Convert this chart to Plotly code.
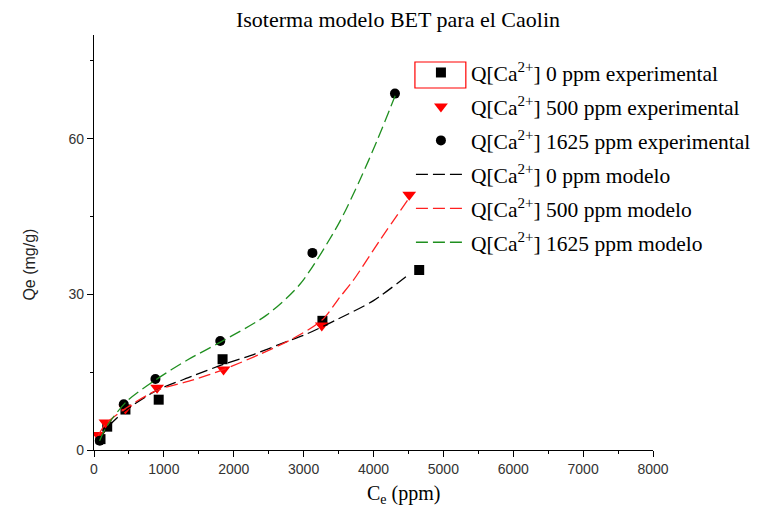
import plotly.graph_objects as go

# Experimental isotherm points (Ce in ppm, Qe in mg/g)
ce_0 = [93, 189, 450, 926, 1840, 3269, 4654]
qe_0 = [2.1, 4.5, 7.8, 9.7, 17.5, 24.9, 34.7]

ce_500 = [60, 164, 450, 903, 1854, 3260, 4511]
qe_500 = [2.9, 5.3, 8.0, 12.0, 15.5, 24.0, 49.2]

ce_1625 = [83, 426, 879, 1807, 3126, 4307]
qe_1625 = [1.8, 8.8, 13.7, 21.0, 38.0, 68.7]

# BET model curves
mx_0 = [80, 190, 450, 900, 1400, 1850, 2300, 2700, 3050, 3500, 4000, 4520]
my_0 = [2.0, 4.3, 7.6, 11.5, 14.2, 16.5, 18.5, 20.6, 22.4, 25.3, 28.8, 34.0]

mx_500 = [60, 165, 450, 900, 1420, 1850, 2380, 2850, 3260, 3520, 3710, 4090, 4500]
my_500 = [2.8, 5.0, 8.0, 11.5, 13.5, 15.5, 18.5, 21.5, 25.0, 29.5, 32.7, 40.4, 48.4]

mx_1625 = [80, 180, 470, 880, 1330, 1810, 2470, 2950, 3500, 3810, 4050, 4310]
my_1625 = [1.8, 4.5, 9.4, 13.5, 17.3, 20.8, 26.0, 32.0, 43.6, 52.2, 59.6, 68.3]

names_exp = ["Q[Ca<sup>2+</sup>] 0 ppm experimental",
             "Q[Ca<sup>2+</sup>] 500 ppm experimental",
             "Q[Ca<sup>2+</sup>] 1625 ppm experimental"]
names_mod = ["Q[Ca<sup>2+</sup>] 0 ppm modelo",
             "Q[Ca<sup>2+</sup>] 500 ppm modelo",
             "Q[Ca<sup>2+</sup>] 1625 ppm modelo"]

serif = "Liberation Serif, Times New Roman, serif"
sans = "Liberation Sans, Arial, sans-serif"

# plot-area geometry in pixels (used to place paper-referenced items)
L, R, T, B = 93.5, 653.5, 35, 450
W, H = R - L, B - T


def px(x):
    return (x - L) / W


def py(y):
    return (B - y) / H


fig = go.Figure()

exp_sets = [(ce_0, qe_0, "square", "black", 10),
            (ce_500, qe_500, "triangle-down", "red", 12),
            (ce_1625, qe_1625, "circle", "black", 10)]
for i, (x, y, sym, col, sz) in enumerate(exp_sets):
    fig.add_trace(go.Scatter(x=x, y=y, mode="markers", name=names_exp[i],
                             legendgroup=f"e{i}",
                             marker=dict(symbol=sym, color=col, size=sz,
                                         line=dict(width=0))))

mod_sets = [(mx_0, my_0, "black"), (mx_500, my_500, "#ff2020"),
            (mx_1625, my_1625, "#1f8f1f")]
for i, (x, y, col) in enumerate(mod_sets):
    fig.add_trace(go.Scatter(x=x, y=y, mode="lines", name=names_mod[i],
                             legendgroup=f"m{i}",
                             line=dict(color=col, width=1.3, dash="12px,5px",
                                       shape="spline", smoothing=0.8)))

# box around the first legend symbol
fig.add_shape(type="rect", xref="paper", yref="paper",
              x0=px(415), x1=px(466), y0=py(88), y1=py(62),
              line=dict(color="red", width=1.2), fillcolor="rgba(0,0,0,0)")

# axis titles
fig.add_annotation(text="Qe (mg/g)", xref="paper", yref="paper",
                   x=px(28), y=py(265), textangle=-90, showarrow=False,
                   xanchor="center", yanchor="middle",
                   font=dict(family=sans, size=16, color="#222222"))
fig.add_annotation(text="C<sub>e</sub> (ppm)", xref="paper", yref="paper",
                   x=px(404), y=py(494), showarrow=False,
                   xanchor="center", yanchor="middle",
                   font=dict(family=serif, size=20, color="black"))

fig.update_layout(
    width=768, height=510,
    margin=dict(l=L, r=768 - R, t=T, b=510 - B),
    paper_bgcolor="white", plot_bgcolor="white",
    showlegend=True,
    title=dict(text="Isoterma modelo BET para el Caolin",
               x=398 / 768, xanchor="center", y=1 - 19 / 510, yanchor="middle",
               font=dict(family=serif, size=22, color="black")),
    legend=dict(x=px(411), y=py(52), xanchor="left", yanchor="top",
                bgcolor="rgba(0,0,0,0)", borderwidth=0, tracegroupgap=3,
                font=dict(family=serif, size=21.5, color="black"),
                itemwidth=50),
    xaxis=dict(range=[0, 8000], dtick=1000, tick0=0,
               showgrid=False, zeroline=False, showline=True,
               linecolor="black", linewidth=1.2,
               ticks="outside", ticklen=6, tickwidth=1.2, tickcolor="black",
               minor=dict(dtick=500, ticks="outside", ticklen=3, tickcolor="black", tickwidth=1.2),
               tickfont=dict(family=sans, size=14, color="#333333")),
    yaxis=dict(range=[0, 80], dtick=30, tick0=0,
               showgrid=False, zeroline=False, showline=True,
               linecolor="black", linewidth=1.2,
               ticks="outside", ticklen=6, tickwidth=1.2, tickcolor="black",
               minor=dict(dtick=15, ticks="outside", ticklen=3, tickcolor="black", tickwidth=1.2),
               tickfont=dict(family=sans, size=14, color="#333333")),
)

fig.write_html("out.html")
